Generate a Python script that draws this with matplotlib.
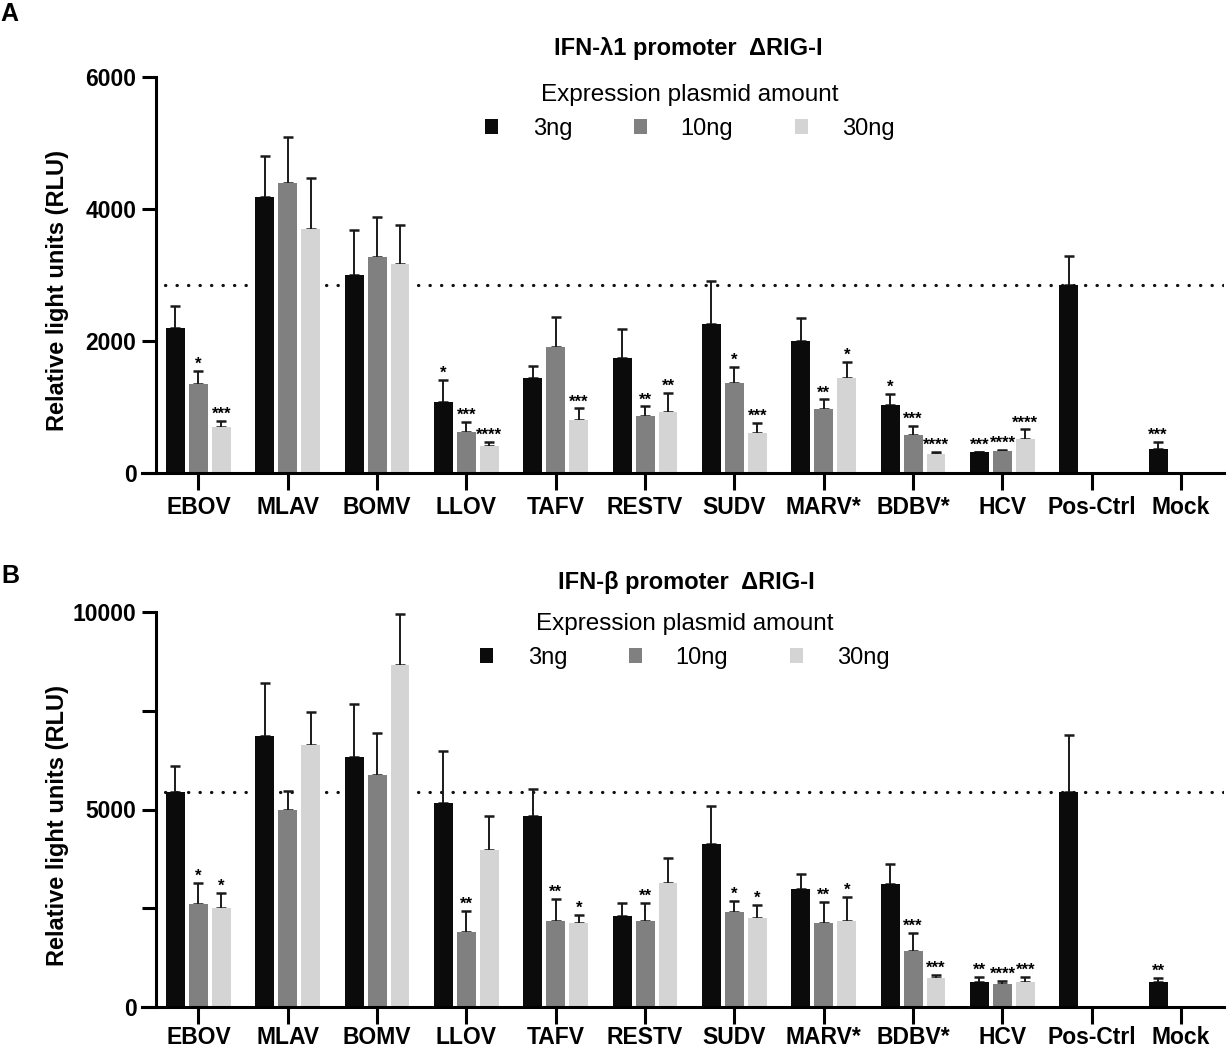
import numpy as np
import matplotlib
matplotlib.use("Agg")
import matplotlib.pyplot as plt

plt.rcParams['font.family'] = ['Liberation Sans', 'DejaVu Sans']

viruses = ['EBOV', 'MLAV', 'BOMV', 'LLOV', 'TAFV', 'RESTV', 'SUDV',
           'MARV*', 'BDBV*', 'HCV', 'Pos-Ctrl', 'Mock']
doses = ['3ng', '10ng', '30ng']
colors = ['#0b0b0b', '#808080', '#d4d4d4']
nan = np.nan

# ---------- A: IFN-lambda1 promoter ----------
a_3ng = [2200, 4180, 2990, 1075, 1430, 1745, 2255, 2000, 1030, 310, 2840, 365]
a_10ng = [1350, 4390, 3270, 615, 1900, 860, 1360, 965, 565, 325, nan, nan]
a_30ng = [700, 3690, 3165, 400, 800, 925, 605, 1440, 290, 505, nan, nan]
a_3ng_sd = [320, 625, 690, 325, 190, 425, 645, 350, 165, 10, 440, 100]
a_10ng_sd = [190, 700, 610, 155, 460, 145, 245, 145, 145, 25, nan, nan]
a_30ng_sd = [90, 770, 585, 72, 175, 285, 145, 240, 20, 150, nan, nan]
a_3ng_sig = ['', '', '', '*', '', '', '', '', '*', '***', '', '***']
a_10ng_sig = ['*', '', '', '***', '', '**', '*', '**', '***', '****', '', '']
a_30ng_sig = ['***', '', '', '****', '***', '**', '***', '*', '****', '****', '', '']

# ---------- B: IFN-beta promoter ----------
b_3ng = [5430, 6860, 6320, 5160, 4845, 2320, 4130, 3000, 3110, 650, 5430, 630]
b_10ng = [2600, 5000, 5870, 1900, 2190, 2190, 2400, 2120, 1430, 590, nan, nan]
b_30ng = [2500, 6630, 8650, 3980, 2120, 3130, 2250, 2180, 750, 650, nan, nan]
b_3ng_sd = [670, 1345, 1345, 1330, 675, 325, 960, 360, 505, 125, 1455, 120]
b_10ng_sd = [535, 475, 1070, 535, 540, 440, 290, 550, 455, 85, nan, nan]
b_30ng_sd = [400, 825, 1285, 865, 215, 650, 335, 600, 70, 110, nan, nan]
b_3ng_sig = ['', '', '', '', '', '', '', '', '', '**', '', '**']
b_10ng_sig = ['*', '', '', '**', '**', '**', '*', '**', '***', '****', '', '']
b_30ng_sig = ['*', '', '', '', '*', '', '*', '*', '***', '***', '', '']

W, H = 1227, 1053
fig = plt.figure(figsize=(W / 100, H / 100), dpi=100)

offsets = [-0.257, 0.0, 0.257]


def draw_panel(ax, means, sds, sigs, ymax, major, minor, xpad):
    x = np.arange(len(viruses))
    ref = means[0][viruses.index('Pos-Ctrl')]
    ax.hlines(ref, -0.37, 11.48, color='#111111', lw=2.3,
              linestyles=[(0, (0.1, 3.5))], capstyle='round', zorder=1)
    bars = []
    for k in range(3):
        xs = x + offsets[k]
        m = np.array(means[k], float)
        s = np.array(sds[k], float)
        b = ax.bar(xs, m, width=0.21, color=colors[k], zorder=2, label=doses[k])
        bars.append(b)
        ax.errorbar(xs, m, yerr=[np.zeros_like(s), s], fmt='none',
                    ecolor='#1a1a1a', elinewidth=1.4, capsize=3.6,
                    capthick=1.8, zorder=1.5)
        for xi, mi, si, st in zip(xs, m, s, sigs[k]):
            if st:
                ax.annotate(st, (xi, mi + si), xytext=(0, 1.5),
                            textcoords='offset points', ha='center',
                            va='baseline', fontsize=12, fontweight='bold')
    ax.set_xlim(-0.632, 11.48)
    ax.set_ylim(0, ymax)
    for sp in ['top', 'right']:
        ax.spines[sp].set_visible(False)
    ax.spines['left'].set_position(('data', -0.476))
    ax.spines['left'].set_linewidth(2.2)
    ax.spines['bottom'].set_linewidth(2.2)
    ax.set_xticks(x)
    ax.set_xticklabels(viruses, fontsize=16.5, fontweight='bold')
    ax.set_yticks(major)
    ax.set_yticklabels([str(v) for v in major], fontsize=16.5, fontweight='bold')
    ax.set_yticks(minor, minor=True)
    ax.tick_params(axis='x', length=12, width=2.2, pad=xpad)
    ax.tick_params(axis='y', which='both', length=10, width=2.2, pad=4)
    ax.set_ylabel('Relative light units (RLU)', fontsize=17, fontweight='bold',
                  va='center')
    ax.yaxis.set_label_coords(-0.078, 0.46)
    return bars


def add_legend(ax, bars, xc, ytop):
    ax.legend(bars, doses, title='Expression plasmid amount', ncol=3,
              loc='upper center', bbox_to_anchor=(xc / W, 1 - ytop / H),
              bbox_transform=fig.transFigure, frameon=False, fontsize=17,
              title_fontsize=17.5, handlelength=0.55, handleheight=0.55,
              handletextpad=1.45, columnspacing=2.6, borderpad=0,
              borderaxespad=0)


left, width = 142 / W, (1224 - 142) / W
axA = fig.add_axes([left, 1 - 472.7 / H, width, (472.7 - 76.7) / H])
barsA = draw_panel(axA, [a_3ng, a_10ng, a_30ng], [a_3ng_sd, a_10ng_sd, a_30ng_sd],
                   [a_3ng_sig, a_10ng_sig, a_30ng_sig], 6000,
                   [0, 2000, 4000, 6000], [], 5)
add_legend(axA, barsA, 690, 84)

axB = fig.add_axes([left, 1 - 1007.3 / H, width, (1007.3 - 611.7) / H])
barsB = draw_panel(axB, [b_3ng, b_10ng, b_30ng], [b_3ng_sd, b_10ng_sd, b_30ng_sd],
                   [b_3ng_sig, b_10ng_sig, b_30ng_sig], 10000,
                   [0, 5000, 10000], [2500, 7500], 1.5)
add_legend(axB, barsB, 685, 613)

fig.text(688 / W, 1 - 48 / H, 'IFN-λ1 promoter  ΔRIG-I', ha='center',
         va='center', fontsize=17, fontweight='bold')
fig.text(686 / W, 1 - 583 / H, 'IFN-β promoter  ΔRIG-I', ha='center',
         va='center', fontsize=17, fontweight='bold')
fig.text(9 / W, 1 - 14 / H, 'A', ha='center', va='center', fontsize=18,
         fontweight='bold')
fig.text(10 / W, 1 - 576 / H, 'B', ha='center', va='center', fontsize=18,
         fontweight='bold')

fig.savefig('out.png', dpi=100)
